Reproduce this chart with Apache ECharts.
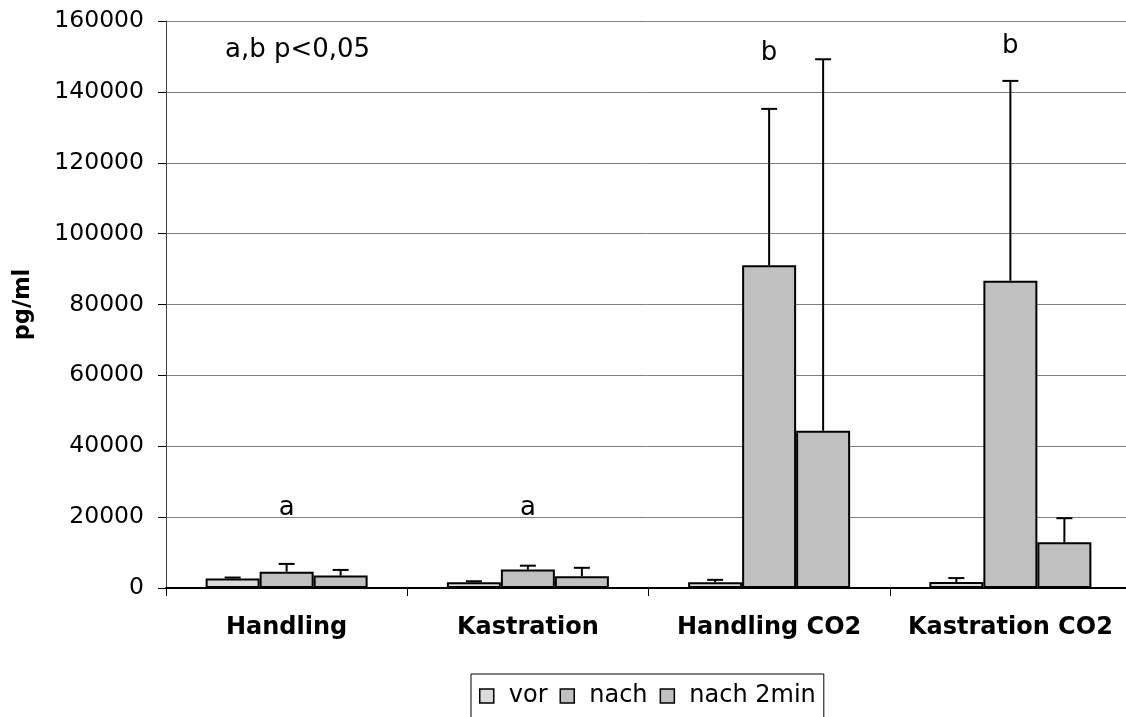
<!DOCTYPE html>
<html>
<head>
<meta charset="utf-8">
<script src="https://cdn.jsdelivr.net/npm/echarts@6/dist/echarts.min.js"></script>
<style>
html,body{margin:0;padding:0;background:#fff;}
#chart{width:1126px;height:717px;}
</style>
</head>
<body>
<div id="chart"></div>
<script>
const categories = ['Handling', 'Kastration', 'Handling CO2', 'Kastration CO2'];
const seriesNames = ['vor', 'nach', 'nach 2min'];
const vor = [2700, 1600, 1600, 1700];
const vorErr = [250, 300, 700, 1100];
const nach = [4600, 5200, 91100, 86700];
const nachErr = [2200, 1100, 44100, 56400];
const nach2 = [3500, 3300, 44400, 12900];
const nach2Err = [1600, 2400, 104800, 6800];
const sigLetters = ['a', 'a', 'b', 'b'];
const sigHeights = [22400, 22400, 151000, 153000];
const noteText = 'a,b p<0,05';
const yTicks = [0, 20000, 40000, 60000, 80000, 100000, 120000, 140000, 160000];

const FONT = 'DejaVu Sans';
const BAR_W = 54;
const values = [vor, nach, nach2];
const errs = [vorErr, nachErr, nach2Err];
const colors = ['#dadada', '#c0c0c0', '#c0c0c0'];

const chart = echarts.init(document.getElementById('chart'), null, {renderer: 'canvas'});

const barSeries = seriesNames.map((name, i) => ({
  name: name,
  type: 'bar',
  data: values[i],
  barWidth: BAR_W,
  barGap: '0%',
  itemStyle: {color: colors[i], borderColor: '#000', borderWidth: 2},
  emphasis: {disabled: true},
  z: 2
}));

const errSeries = seriesNames.map((name, i) => ({
  type: 'custom',
  name: name + '_err',
  data: values[i].map((v, ci) => [ci, v, errs[i][ci]]),
  encode: {x: 0, y: 1},
  z: 3,
  silent: true,
  renderItem: function (params, api) {
    const ci = api.value(0);
    const v = api.value(1);
    const e = api.value(2);
    const base = api.coord([ci, v]);
    const top = api.coord([ci, v + e]);
    const x = base[0] + (i - 1) * BAR_W;
    const st = {stroke: '#000', lineWidth: 2};
    return {
      type: 'group',
      children: [
        {type: 'line', shape: {x1: x, y1: base[1], x2: x, y2: top[1]}, style: st},
        {type: 'line', shape: {x1: x - 8, y1: top[1], x2: x + 8, y2: top[1]}, style: st}
      ]
    };
  }
}));

const sigSeries = {
  type: 'scatter',
  name: 'sig',
  data: sigLetters.map((l, ci) => [ci, sigHeights[ci], l]),
  symbolSize: 0,
  silent: true,
  itemStyle: {opacity: 1, color: '#000'},
  emphasis: {disabled: true},
  label: {
    show: true,
    position: 'inside',
    formatter: p => p.value[2],
    fontFamily: FONT,
    fontSize: 26,
    color: '#000',
    opacity: 1,
    textBorderWidth: 0
  },
  z: 4
};

const option = {
  backgroundColor: '#fff',
  animation: false,
  grid: {left: 166, top: 21, width: 965, height: 567, outerBoundsMode: 'none', containLabel: false},
  legend: {
    data: seriesNames,
    left: 471,
    top: 674,
    orient: 'horizontal',
    padding: [10, 8, 40, 8],
    itemGap: 12,
    itemWidth: 14,
    itemHeight: 14,
    icon: 'rect',
    borderColor: '#000',
    borderWidth: 1,
    backgroundColor: '#fff',
    selectedMode: false,
    itemStyle: {borderColor: '#000', borderWidth: 1.5},
    textStyle: {fontFamily: FONT, fontSize: 24, color: '#000', padding: [0, 0, 0, 10]}
  },
  xAxis: {
    type: 'category',
    data: categories,
    axisLine: {show: true, lineStyle: {color: '#000', width: 2}},
    axisTick: {show: true, length: 8, inside: false, lineStyle: {color: '#000', width: 1}},
    axisLabel: {fontFamily: FONT, fontWeight: 'bold', fontSize: 24, color: '#000', margin: 28, interval: 0},
    splitLine: {show: false}
  },
  yAxis: {
    type: 'value',
    min: 0,
    max: 160000,
    interval: 20000,
    name: 'pg/ml',
    nameLocation: 'middle',
    nameGap: 131,
    nameRotate: 90,
    nameTextStyle: {fontFamily: FONT, fontWeight: 'bold', fontSize: 22.5, color: '#000'},
    axisLine: {show: true, lineStyle: {color: '#404040', width: 1}},
    axisTick: {show: true, length: 8, lineStyle: {color: '#000', width: 1}},
    axisLabel: {
      fontFamily: FONT, fontSize: 23.5, color: '#000', margin: 22,
      formatter: v => (yTicks.indexOf(v) >= 0 ? String(v) : '')
    },
    splitLine: {show: true, lineStyle: {color: '#808080', width: 1}}
  },
  graphic: [{
    type: 'text',
    x: 225,
    y: 50,
    style: {text: noteText, font: '26px "DejaVu Sans"', fill: '#000', align: 'left', verticalAlign: 'middle'},
    z: 10
  }],
  series: [...barSeries, ...errSeries, sigSeries]
};

chart.setOption(option);
</script>
</body>
</html>
